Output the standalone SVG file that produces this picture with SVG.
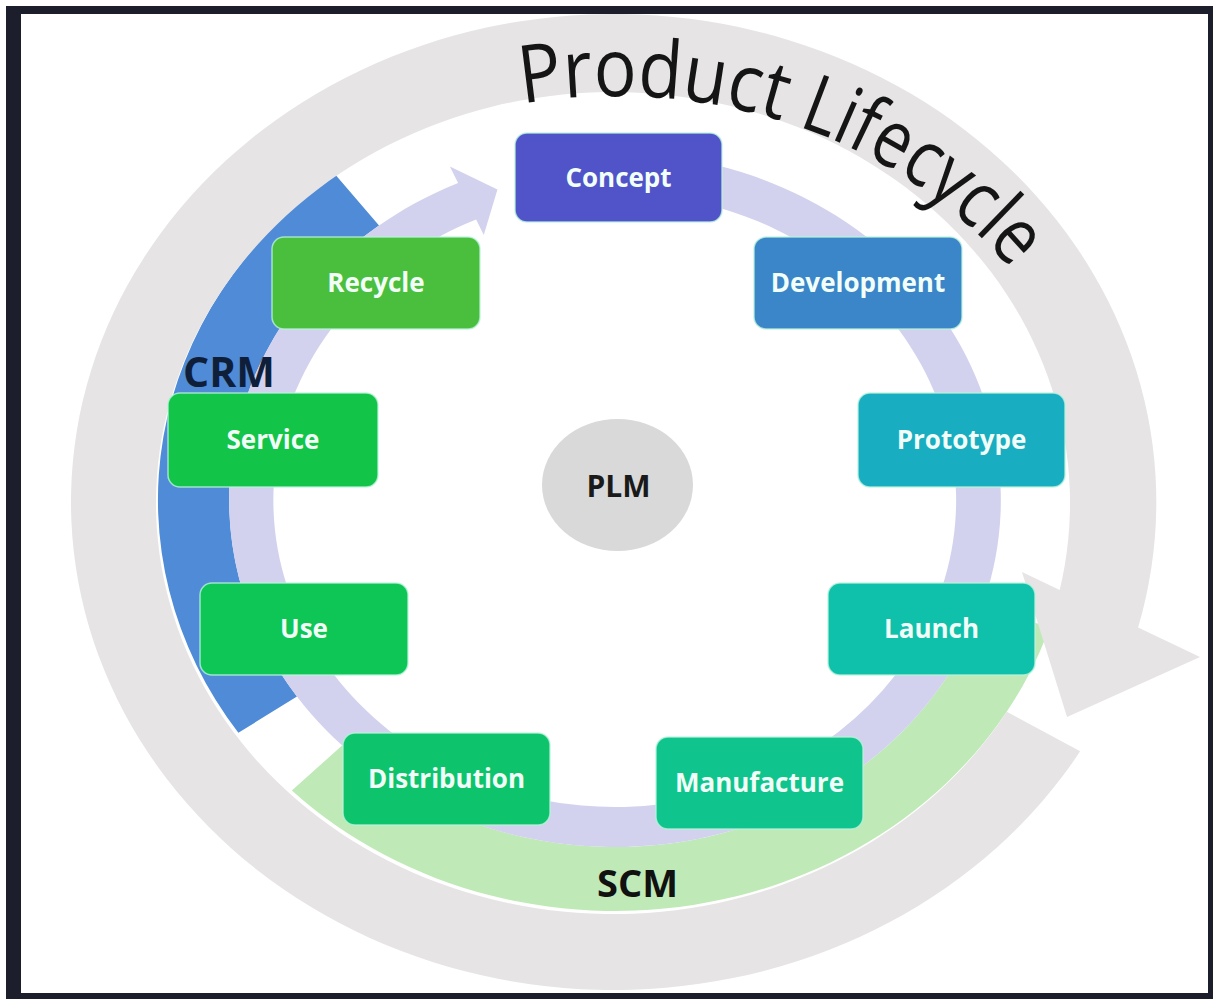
<svg xmlns="http://www.w3.org/2000/svg" width="1213" height="999" viewBox="0 0 1213 999">
  <defs>
    <style>
      .box { stroke: #b9f3dc; stroke-width: 1.5; stroke-opacity: 0.8; }
      .lbl { font-family: "Open Sans", "Liberation Sans", sans-serif; font-weight: 700; font-size: 26px; fill: #f2fff8; text-anchor: middle; }
      .band-label { font-family: "Open Sans", "Liberation Sans", sans-serif; font-weight: 700; }
      .title { font-family: "Open Sans", "Liberation Sans", sans-serif; font-size: 80px; fill: #151515; }
    </style>
    <path id="titlePath" d="M 480 112.2 A 482 404 0 0 1 1072.9 374" fill="none"/>
  </defs>

  <rect x="0" y="0" width="1213" height="999" fill="#ffffff"/>
  <path d="M6 6 H1213 V999 H6 Z M21 14 V993 H1208 V14 Z" fill="#1c1e2c" fill-rule="evenodd"/>

  <g id="bands" transform="translate(615,500) scale(1.112,1)">
    <path id="scm-band" d="M -290.6 290.6 A 411 411 0 0 0 390.9 127.0 L 330.0 107.2 A 347 347 0 0 1 -245.4 245.4 Z" fill="#bfe9b6"/>
    <path id="crm-band" d="M -338.7 232.8 A 411 411 0 0 1 -251.4 -325.2 L -212.2 -274.5 A 347 347 0 0 0 -286.0 196.5 Z" fill="#4f8bd6"/>
    <path id="lifecycle-arrow" d="M 418.3 251.3 A 488 488 0 1 1 470.4 127.4 L 526.1 157 L 406.5 217 L 366 72 L 399.9 90 A 411 411 0 1 0 352.3 211.7 Z" fill="#e6e4e5"/>
  </g>

  <g id="title">
    <text class="title"><textPath href="#titlePath" startOffset="43" textLength="262" lengthAdjust="spacingAndGlyphs">Product</textPath></text>
    <text class="title"><textPath href="#titlePath" startOffset="322" textLength="260" lengthAdjust="spacingAndGlyphs">Lifecycle</textPath></text>
  </g>

  <g id="connectors" transform="translate(615,500) scale(1.112,1)">
    <path id="cycle-arrow" d="M -48.3 -343.6 A 347 347 0 1 1 -141.1 -317.0 L -148.5 -333.4 L -105.7 -310.5 L -118.0 -264.9 L -124.9 -280.5 A 307 307 0 1 0 -42.7 -304.0 Z" fill="#d2d2ee"/>
  </g>

  <g id="concept"><rect class="box" x="515" y="133" width="207" height="89" rx="12" fill="#5153c9"/><text class="lbl" x="618.5" y="187">Concept</text></g>
  <g id="development"><rect class="box" x="754" y="237" width="208" height="92" rx="12" fill="#3a86c8"/><text class="lbl" x="858" y="292">Development</text></g>
  <g id="prototype"><rect class="box" x="858" y="393" width="207" height="94" rx="12" fill="#18adc0"/><text class="lbl" x="961.5" y="449">Prototype</text></g>
  <g id="launch"><rect class="box" x="828" y="583" width="207" height="92" rx="12" fill="#0fc0ab"/><text class="lbl" x="931.5" y="638">Launch</text></g>
  <g id="manufacture"><rect class="box" x="656" y="737" width="207" height="92" rx="12" fill="#10c58d"/><text class="lbl" x="759.5" y="792">Manufacture</text></g>
  <g id="distribution"><rect class="box" x="343" y="733" width="207" height="92" rx="12" fill="#0dc46d"/><text class="lbl" x="446.5" y="788">Distribution</text></g>
  <g id="use"><rect class="box" x="200" y="583" width="208" height="92" rx="12" fill="#0dc655"/><text class="lbl" x="304" y="638">Use</text></g>
  <g id="service"><rect class="box" x="168" y="393" width="210" height="94" rx="12" fill="#12c447"/><text class="lbl" x="273" y="449">Service</text></g>
  <g id="recycle"><rect class="box" x="272" y="237" width="208" height="92" rx="12" fill="#4abf3d"/><text class="lbl" x="376" y="292">Recycle</text></g>

  <g id="plm">
    <ellipse cx="617.5" cy="485" rx="75.5" ry="66" fill="#d9d9d9"/>
    <text class="band-label" x="618.5" y="497" font-size="30" fill="#1a1a1a" text-anchor="middle">PLM</text>
  </g>

  <g id="crm-label"><text class="band-label" x="183" y="387" font-size="41" fill="#0f1f3a">CRM</text></g>
  <g id="scm-label"><text class="band-label" x="597" y="897" font-size="38" fill="#111111">SCM</text></g>
</svg>
